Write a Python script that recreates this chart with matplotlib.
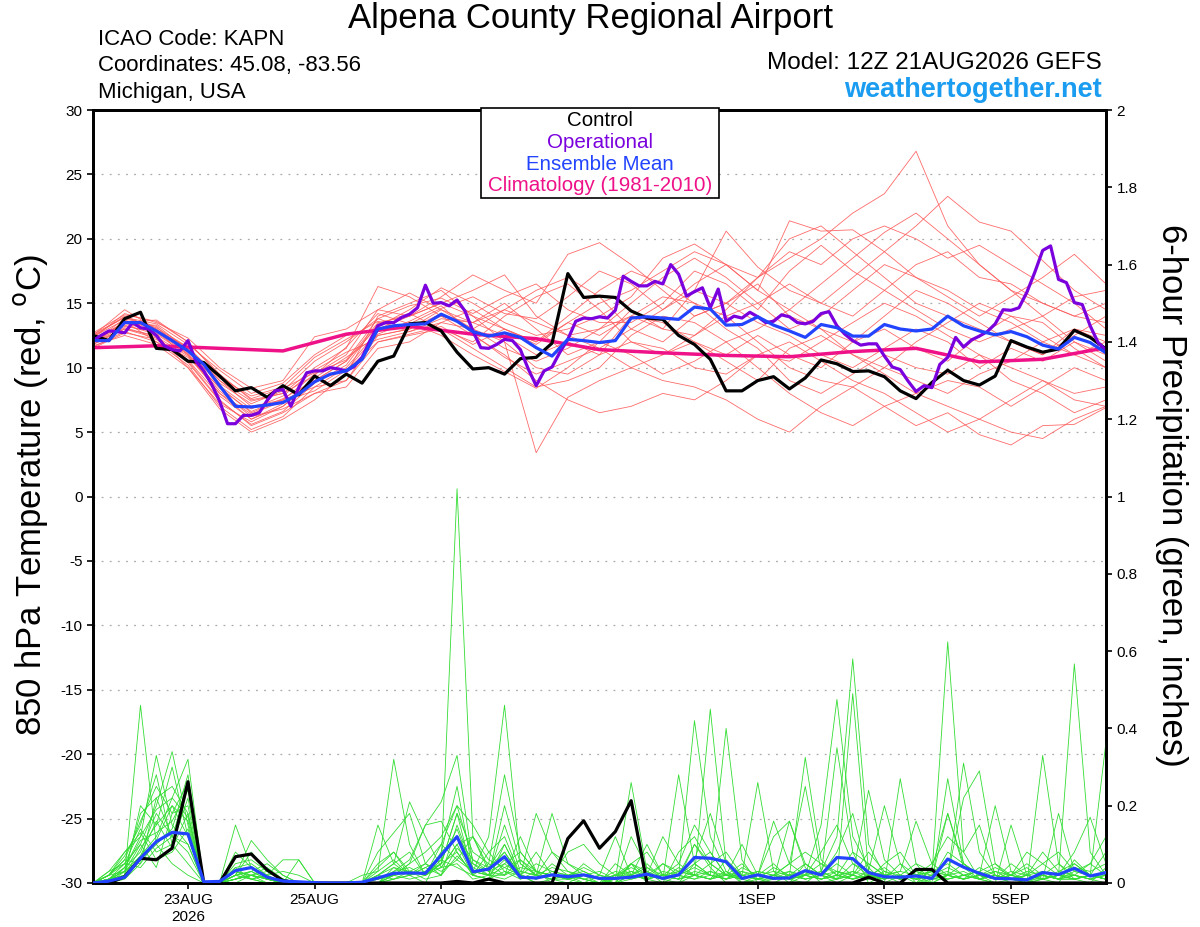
import numpy as np
import matplotlib
matplotlib.use("Agg")
import matplotlib.pyplot as plt
from matplotlib.patches import Rectangle

plt.rcParams['font.family'] = ['Liberation Sans', 'DejaVu Sans']
plt.rcParams['axes.unicode_minus'] = False

RED = "#ff5a5a"
GREEN = "#33dd33"
PURPLE = "#7a00dd"
BLUE = "#2244ff"
CLIM = "#ee1188"
SKY = "#1a9cf0"

# forecast hours (GEFS 12Z 21AUG2026, 6-hourly to 384h)
hours6 = np.arange(0, 385, 6)
hours3 = np.arange(0, 385, 3)
hours12 = np.arange(0, 385, 12)
hours24 = np.arange(0, 385, 24)
tick_hours = [36, 84, 132, 180, 252, 300, 348]
tick_labels = ["23AUG\n2026", "25AUG", "27AUG", "29AUG", "1SEP", "3SEP", "5SEP"]

# 850 hPa temperature, control (6-hourly)
control_t = [12.5, 12.1, 13.8, 14.3, 11.5, 11.4, 10.5, 10.4, 9.35, 8.2, 8.45, 7.7, 8.6,
             7.9, 9.35, 8.6, 9.5, 8.8, 10.5, 10.9, 13.4, 13.5, 12.85, 11.2, 9.9, 10.0,
             9.5, 10.7, 10.8, 11.9, 17.3, 15.45, 15.55, 15.45, 14.4, 13.85, 13.75, 12.5,
             11.8, 10.65, 8.2, 8.2, 9.0, 9.3, 8.35, 9.2, 10.6, 10.3, 9.7, 9.75, 9.3, 8.2,
             7.6, 8.85, 9.8, 9.0, 8.65, 9.35, 12.1, 11.6, 11.2, 11.45, 12.9, 12.35, 11.45]

# ensemble mean temperature (6-hourly)
mean_t = [12.1, 12.1, 13.5, 13.5, 12.85, 12.1, 11.3, 10.25, 8.6, 7.0, 6.95, 7.1, 7.3,
          7.95, 8.9, 9.5, 9.75, 10.65, 13.0, 13.25, 13.35, 13.4, 14.15, 13.6, 12.8, 12.45,
          12.7, 12.35, 11.55, 10.9, 12.2, 12.1, 11.95, 12.1, 13.85, 13.95, 13.85, 13.75,
          14.7, 14.55, 13.3, 13.35, 13.95, 13.3, 12.85, 12.35, 13.35, 13.1, 12.45, 12.45,
          13.35, 13.0, 12.85, 13.0, 14.0, 13.25, 12.85, 12.55, 12.8, 12.4, 11.75, 11.45,
          12.35, 11.95, 11.15]

# operational run temperature (3-hourly)
oper_t = [12.1, 12.5, 12.85, 12.8, 12.7, 13.5, 13.1, 13.0, 12.5, 11.7, 11.4, 11.3, 12.1,
          10.5, 9.75, 8.7, 7.4, 5.65, 5.65, 6.3, 6.3, 6.5, 7.45, 8.2, 8.3, 7.0, 8.45, 9.6,
          9.75, 9.75, 10.0, 9.9, 9.75, 10.1, 10.8, 12.1, 13.25, 13.5, 13.5, 13.9, 14.15,
          14.65, 16.4, 15.0, 15.05, 14.8, 15.25, 14.4, 12.85, 11.55, 11.5, 11.8, 12.2, 12.1,
          11.4, 9.9, 8.6, 9.75, 10.05, 11.2, 12.2, 13.6, 13.85, 13.8, 13.95, 13.85, 14.45,
          17.1, 16.7, 16.35, 16.35, 16.7, 16.5, 18.0, 17.25, 15.55, 15.9, 16.2, 14.65, 16.1,
          13.6, 14.0, 13.85, 14.3, 13.95, 13.5, 13.6, 14.1, 13.95, 13.5, 13.4, 13.6, 14.2,
          14.35, 13.25, 12.6, 12.1, 11.75, 11.85, 11.85, 10.9, 10.05, 9.85, 8.95, 8.15, 8.6,
          8.45, 10.25, 10.8, 12.35, 11.6, 12.15, 12.45, 12.8, 13.4, 14.5, 14.45, 14.65,
          15.85, 17.4, 19.1, 19.45, 16.85, 16.6, 15.05, 14.9, 13.25, 11.95, 11.35]

# climatology 1981-2010 (daily)
clim_t = [11.55, 11.7, 11.5, 11.3, 12.6, 13.2, 12.6, 12.25, 11.4, 11.15, 10.95, 10.85,
          11.25, 11.5, 10.45, 10.65, 11.55]

# ensemble member temperatures (12-hourly)
members_t = [
    [12.0, 13.8, 13.2, 11.0, 8.0, 6.0, 7.0, 9.0, 10.5, 13.5, 14.0, 15.0, 14.0, 13.0, 12.0, 13.5, 15.0, 16.0, 17.5, 19.0, 18.0, 17.0, 20.0, 21.0, 19.0, 17.0, 15.0, 14.0, 13.0, 12.0, 11.0, 13.0, 12.5],
    [12.5, 14.5, 13.0, 10.5, 7.5, 5.5, 6.5, 8.0, 9.0, 12.5, 13.0, 14.5, 13.0, 14.5, 16.0, 17.0, 15.5, 13.0, 12.0, 14.0, 15.0, 17.0, 18.5, 20.0, 22.0, 23.5, 26.8, 21.0, 18.0, 16.0, 14.0, 12.0, 10.5],
    [11.8, 13.0, 12.5, 10.0, 6.8, 5.0, 6.0, 7.5, 9.5, 14.0, 15.0, 16.0, 14.0, 12.0, 10.0, 9.5, 11.0, 14.0, 15.5, 15.0, 14.0, 12.0, 10.0, 9.0, 8.5, 10.0, 12.0, 13.5, 15.0, 14.0, 12.5, 11.0, 12.0],
    [12.2, 13.5, 13.7, 12.0, 9.5, 7.5, 8.0, 10.0, 11.5, 16.3, 15.5, 14.0, 12.5, 11.0, 9.0, 7.5, 6.5, 7.0, 8.0, 7.5, 9.0, 11.0, 10.5, 12.0, 13.5, 15.0, 14.0, 12.5, 11.0, 10.0, 9.0, 7.5, 7.0],
    [11.6, 12.8, 12.0, 10.8, 8.5, 6.5, 7.5, 9.5, 11.0, 14.5, 14.0, 15.5, 17.2, 16.0, 15.0, 18.8, 19.7, 18.0, 16.0, 14.0, 15.0, 16.5, 14.0, 13.0, 12.0, 14.0, 16.0, 15.0, 13.5, 12.0, 11.0, 12.5, 14.0],
    [12.4, 14.0, 13.0, 11.5, 9.0, 7.0, 7.5, 8.5, 9.0, 12.0, 12.5, 13.0, 11.5, 10.0, 8.5, 9.0, 10.0, 12.5, 14.0, 13.5, 12.0, 13.0, 14.5, 13.0, 11.0, 9.5, 8.0, 7.0, 6.0, 5.0, 4.5, 6.0, 7.0],
    [12.0, 13.2, 12.8, 11.2, 8.8, 7.2, 8.2, 10.5, 12.0, 13.8, 13.0, 14.0, 13.5, 15.0, 13.0, 11.0, 12.0, 14.5, 13.0, 16.0, 20.6, 17.8, 16.0, 15.0, 17.0, 19.0, 21.0, 23.3, 21.3, 20.6, 18.3, 16.0, 14.5],
    [11.9, 13.6, 12.0, 10.2, 7.0, 5.2, 6.2, 8.5, 10.0, 12.8, 13.5, 12.5, 11.0, 9.7, 8.4, 10.0, 12.0, 11.0, 9.5, 10.5, 12.0, 10.0, 8.0, 6.5, 5.5, 7.0, 8.0, 9.0, 8.5, 7.0, 8.5, 10.0, 9.0],
    [12.6, 13.9, 13.4, 11.8, 9.8, 8.0, 8.8, 11.0, 12.5, 13.0, 14.0, 15.0, 16.0, 17.2, 14.0, 12.5, 13.0, 15.0, 17.0, 18.5, 17.0, 15.0, 13.0, 14.0, 16.0, 18.0, 17.0, 15.5, 14.0, 15.5, 17.0, 18.8, 16.5],
    [12.1, 13.3, 12.6, 11.0, 8.2, 6.2, 6.8, 8.0, 8.5, 11.5, 12.0, 13.5, 13.0, 12.0, 3.4, 7.7, 9.0, 10.0, 11.0, 12.0, 10.5, 9.0, 11.5, 12.5, 11.0, 10.0, 9.0, 8.0, 9.5, 10.5, 12.0, 11.0, 10.0],
    [11.7, 12.5, 11.8, 10.0, 7.2, 5.8, 7.0, 9.0, 10.5, 13.2, 14.5, 16.2, 15.0, 13.5, 12.5, 13.0, 14.0, 15.5, 18.5, 19.6, 18.0, 16.0, 21.4, 20.6, 20.7, 19.0, 17.0, 16.0, 14.5, 13.5, 12.0, 13.0, 12.0],
    [12.3, 14.2, 13.5, 12.3, 10.0, 8.4, 9.0, 12.4, 13.0, 14.5, 15.8, 14.5, 13.5, 12.5, 11.0, 12.0, 11.0, 12.0, 11.5, 10.0, 9.5, 11.0, 12.0, 10.5, 9.0, 8.0, 6.5, 5.0, 6.0, 7.5, 9.0, 8.0, 8.5],
    [12.0, 13.0, 12.3, 10.6, 7.8, 6.0, 7.2, 9.2, 10.8, 12.5, 13.0, 14.2, 13.0, 11.5, 10.5, 11.5, 13.0, 14.0, 13.0, 12.5, 14.0, 15.0, 16.5, 15.0, 14.0, 16.0, 18.0, 19.0, 17.0, 16.5, 15.0, 14.0, 15.0],
    [12.4, 13.7, 12.9, 11.6, 9.2, 7.8, 8.5, 10.8, 12.2, 13.6, 12.8, 13.5, 14.5, 13.0, 12.0, 14.0, 16.0, 17.5, 16.5, 15.0, 13.0, 11.5, 9.0, 8.0, 9.5, 11.0, 10.0, 9.5, 11.0, 9.0, 8.0, 6.5, 7.5],
    [11.5, 12.7, 12.2, 10.4, 7.4, 5.6, 6.6, 8.8, 10.2, 13.4, 14.2, 13.0, 12.0, 14.0, 15.5, 16.5, 14.5, 12.0, 11.0, 12.5, 14.5, 17.0, 19.0, 18.0, 20.0, 21.0, 20.0, 18.5, 19.5, 18.0, 16.5, 15.0, 13.0],
    [12.2, 13.4, 13.3, 11.4, 8.6, 6.8, 7.8, 9.8, 11.2, 12.2, 12.8, 13.8, 13.5, 14.5, 13.5, 12.5, 11.5, 13.0, 14.5, 16.0, 15.0, 13.5, 12.5, 11.0, 10.0, 11.5, 13.0, 12.0, 10.0, 11.5, 10.5, 12.0, 11.0],
    [12.7, 14.1, 13.6, 12.0, 9.4, 7.6, 8.4, 9.6, 10.6, 13.8, 14.8, 15.4, 14.2, 15.5, 16.5, 14.5, 13.5, 13.5, 15.0, 17.5, 16.5, 14.5, 17.5, 19.5, 17.5, 16.0, 14.5, 13.0, 12.0, 13.0, 14.0, 15.5, 16.0],
    [11.8, 13.1, 12.4, 10.9, 8.0, 6.4, 7.4, 8.2, 9.8, 12.6, 13.6, 14.8, 12.6, 10.8, 9.5, 10.5, 11.5, 10.0, 9.0, 8.5, 7.5, 6.0, 5.0, 7.0, 8.5, 7.0, 5.5, 6.5, 4.8, 4.0, 5.5, 5.6, 6.9],
    [12.5, 13.9, 13.1, 11.6, 9.0, 7.4, 8.0, 9.4, 11.6, 14.2, 13.4, 14.6, 15.5, 14.2, 13.8, 15.5, 17.5, 16.5, 14.5, 16.5, 18.0, 16.0, 14.5, 16.5, 18.5, 20.5, 22.0, 20.0, 18.0, 16.0, 15.0, 14.0, 13.5],
    [12.0, 13.5, 12.7, 11.1, 8.4, 6.6, 7.6, 9.0, 9.8, 12.0, 12.6, 13.2, 11.8, 13.0, 11.8, 13.5, 12.5, 14.0, 13.5, 12.0, 11.0, 12.5, 11.0, 10.0, 12.0, 13.0, 11.5, 10.5, 12.5, 14.0, 13.5, 11.5, 10.0],
]

# 6-hour precipitation (inches), control and ensemble mean
control_p = [0, 0, 0.016, 0.064, 0.06, 0.09, 0.262, 0, 0, 0.068, 0.075, 0.034, 0.006, 0, 0,
             0, 0, 0, 0, 0, 0, 0, 0, 0.004, 0, 0.01, 0, 0, 0, 0, 0.115, 0.161, 0.09, 0.133,
             0.213, 0, 0, 0, 0, 0, 0, 0, 0, 0, 0, 0, 0, 0, 0, 0.015, 0, 0, 0.035, 0.035, 0,
             0, 0, 0, 0, 0, 0, 0, 0, 0, 0]
mean_p = [0, 0.005, 0.015, 0.064, 0.107, 0.131, 0.127, 0.003, 0.004, 0.032, 0.04, 0.015,
          0.005, 0.003, 0.001, 0, 0, 0.002, 0.013, 0.025, 0.026, 0.025, 0.072, 0.12, 0.029,
          0.036, 0.068, 0.015, 0.013, 0.021, 0.016, 0.021, 0.012, 0.012, 0.015, 0.023, 0.012,
          0.021, 0.066, 0.064, 0.055, 0.012, 0.021, 0.012, 0.013, 0.032, 0.021, 0.066, 0.063,
          0.027, 0.016, 0.015, 0.018, 0.012, 0.062, 0.041, 0.025, 0.012, 0.011, 0.008, 0.027,
          0.022, 0.038, 0.018, 0.027]

# ensemble member precipitation (6-hourly)
members_p = [
    [0, 0, .02, .46, .10, .05, .02, 0, 0, .03, .02, 0, 0, 0, 0, 0, 0, 0, .04, .08, .03, .02, .05, 1.02, .12, .04, .10, .02, 0, 0, 0, .02, 0, 0, .05, 0, 0, .02, .10, .04, 0, 0, .02, .05, .01, 0, .03, .12, .58, .10, .02, 0, 0, .04, .18, .05, .02, 0, .01, 0, .03, .02, .08, .17, .05],
    [0, .02, .08, .12, .33, .15, .10, 0, 0, .15, .04, .02, 0, 0, 0, 0, 0, 0, 0, .02, .05, .15, .21, .33, .05, .02, .02, .06, .03, 0, 0, 0, .02, .01, .26, .03, 0, 0, .02, .45, .05, 0, .01, 0, 0, .05, .02, 0, .02, .24, .06, .02, 0, .02, .624, .08, .01, 0, 0, 0, .02, .05, .01, 0, .04],
    [0, .03, .05, .10, .20, .34, .15, 0, 0, .02, .11, .06, .02, 0, 0, 0, 0, 0, .15, .05, .02, 0, .08, .25, .03, .12, .46, .05, .02, .01, 0, 0, 0, 0, .02, .10, .02, .02, .42, .12, .03, 0, 0, .01, .16, .04, 0, .01, .05, .03, 0, .27, .05, 0, .02, .31, .08, .02, 0, 0, .01, 0, .06, .02, .365],
    [0, .01, .03, .07, .12, .22, .32, 0, 0, .05, .06, .03, .01, 0, 0, 0, 0, .02, .03, .32, .10, .02, .05, .18, .08, .05, .28, .08, .03, .02, .01, 0, 0, 0, .12, .04, .01, .28, .05, .02, .40, .06, 0, 0, .02, .325, .06, .02, .08, 0, .02, .03, .16, .05, .02, .22, .29, .05, .01, 0, .01, .02, .567, .08, .02],
    [0, 0, .04, .08, .18, .12, .25, 0, 0, .08, .04, .02, .06, .06, 0, 0, 0, 0, .02, .05, .21, .12, .04, .10, .12, .06, .04, .02, .18, .08, .03, .01, 0, .02, .05, .03, .01, 0, .05, .08, .02, .02, .26, .03, 0, .02, .15, .475, .12, .04, 0, .02, .01, 0, .27, .05, .02, .20, .03, 0, .33, .05, .02, .01, 0],
    [0, .02, .06, .16, .25, .18, .20, 0, 0, .02, .03, .05, .02, 0, 0, 0, 0, 0, .08, .13, .18, .05, .02, .15, .04, .02, .15, .03, .02, .18, .05, .02, .01, 0, .02, .01, 0, .08, .12, .05, .02, .10, .02, .16, .05, .25, .03, .01, .49, .03, .20, .05, 0, .01, .18, .04, .01, 0, .15, .02, .01, .18, .03, .02, .08],
    [0, .01, .02, .20, .15, .30, .12, 0, 0, .01, .03, .01, 0, .06, 0, 0, 0, 0, 0, .03, .06, .15, .16, .08, .02, .01, .05, .08, .03, .02, .08, .10, .05, .02, .04, .02, .02, .03, .06, .18, .05, .02, .01, .04, .02, .03, .02, .35, .08, .05, .02, .03, .02, 0, .02, .05, .02, .04, .02, .05, .02, .01, .02, .05, .12],
    [0, .02, .03, .06, .10, .14, .28, 0, 0, .04, .05, .02, 0, 0, 0, 0, 0, 0, .02, .05, .08, .02, .08, .12, .06, .03, .08, .02, .05, .03, .02, .01, 0, .01, .03, .02, .05, .03, .02, .01, .06, .02, .03, .02, .05, .08, .05, .03, .02, .01, .05, .08, .02, .03, .05, .02, .03, .05, .02, .08, .05, .02, .04, .03, .05],
    [0, 0, .01, .05, .22, .25, .18, 0, 0, .02, .08, .03, .01, 0, 0, 0, 0, 0, 0, .02, .03, .05, .10, .20, .15, .08, .12, .02, .01, .05, .02, 0, 0, .05, .02, .02, .12, .05, .15, .08, .02, .01, .02, .12, .16, .05, .02, .01, .02, .08, .03, .01, .02, .05, .12, .08, .15, .02, .01, .02, .08, .03, .05, .02, .01],
    [0, .01, .05, .14, .08, .10, .22, 0, 0, .03, .01, .02, .03, .02, 0, 0, 0, 0, .05, .08, .02, .04, .06, .14, .03, .02, .20, .05, .02, .08, .05, .03, .01, 0, .05, .08, .02, .01, .10, .05, .08, .02, .01, .02, .05, .02, .08, .15, .05, .02, .01, .05, .02, .01, .08, .05, .02, .01, .03, .02, .05, .08, .03, .05, .02],
    [0, 0, .02, .09, .15, .20, .16, 0, 0, 0, .02, .01, 0, 0, 0, 0, 0, 0, 0, .01, .02, .03, .05, .18, .02, .01, .10, .02, 0, .01, .02, .04, .02, .12, .02, .05, .01, .02, .05, .02, .01, .03, .02, .01, .02, .05, .02, .08, .18, .02, .02, .01, .03, .02, .04, .02, .03, .01, .02, .04, .01, .02, .02, .01, .03],
    [0, .01, .04, .11, .13, .16, .24, 0, 0, .01, .02, .01, 0, 0, 0, 0, 0, 0, .01, .02, .05, .08, .12, .20, .06, .04, .08, .02, .01, .02, .01, .02, .01, 0, .01, .02, .01, .04, .02, .01, .03, .01, 0, .02, .01, .02, .01, .03, .02, .01, .03, .02, .05, .03, .02, .01, .04, .02, .01, .02, .03, .01, .02, .01, .02],
    [0, .02, .05, .04, .09, .12, .10, 0, 0, .03, .02, .04, .01, 0, 0, 0, 0, 0, 0, .01, .03, .02, .04, .10, .02, .05, .02, .12, .03, .02, .01, .02, .01, .02, .02, .01, .05, .02, .01, .03, .02, .05, .01, .02, .01, .02, .03, .01, .02, .05, .02, .01, .02, .01, .01, .02, .01, .03, .02, .01, .02, .01, .05, .02, .01],
    [0, .01, .03, .18, .22, .12, .08, 0, 0, .02, .01, 0, 0, 0, 0, 0, 0, 0, .02, .01, .02, .05, .03, .06, .12, .03, .05, .02, .08, .02, .02, .01, 0, .01, .02, .01, .02, .01, .03, .02, .02, .01, .02, .01, .02, .01, .02, .03, .01, .02, .01, .02, .01, .02, .03, .01, .02, .01, .05, .02, .01, .02, .01, .02, .01],
    [0, .03, .08, .13, .06, .08, .14, 0, 0, .01, .02, .01, 0, 0, 0, 0, 0, 0, 0, .04, .03, .02, .05, .08, .02, .08, .03, .01, .02, .04, .03, .02, .01, .02, .03, .01, .02, .05, .02, .01, .02, .01, .03, .02, .01, .02, .01, .02, .03, .01, .02, .01, .02, .01, .02, .03, .01, .02, .01, .03, .02, .01, .01, .02, .01],
    [0, .01, .02, .07, .16, .09, .18, 0, 0, .02, .03, .01, 0, 0, 0, 0, 0, 0, .01, .03, .04, .02, .10, .06, .03, .02, .04, .06, .02, .01, .01, .05, .02, .01, .05, .02, .01, .02, .04, .02, .01, .04, .02, .01, .03, .02, .05, .02, .01, .02, .04, .01, .02, .03, .01, .02, .01, .02, .01, .02, .01, .03, .02, .01, .02],
    [0, 0, .03, .10, .04, .18, .26, 0, 0, .01, .02, .03, .01, 0, 0, 0, 0, 0, .03, .06, .02, .04, .02, .09, .05, .03, .02, .04, .03, .02, .01, .02, .01, .03, .02, .04, .02, .01, .02, .05, .02, .01, .02, .03, .02, .01, .02, .05, .02, .01, .02, .01, .02, .01, .02, .01, .02, .03, .01, .01, .02, .01, .03, .02, .01],
    [0, .02, .06, .05, .11, .20, .12, 0, 0, .04, .01, .02, 0, 0, 0, 0, 0, 0, 0, .02, .01, .02, .06, .04, .02, .01, .03, .02, .01, .03, .02, .01, .02, .01, .02, .01, .03, .02, .01, .02, .01, .02, .01, .02, .01, .03, .01, .02, .01, .02, .01, .02, .01, .03, .02, .01, .02, .01, .02, .01, .02, .01, .01, .02, .02],
    [0, .01, .04, .12, .19, .22, .17, 0, 0, .01, .02, .01, 0, 0, 0, 0, 0, 0, .01, .02, .03, .01, .02, .07, .03, .02, .01, .03, .02, .01, .02, .03, .01, .02, .01, .02, .01, .03, .02, .01, .02, .03, .01, .02, .03, .01, .02, .01, .03, .02, .01, .02, .01, .02, .01, .02, .01, .02, .01, .02, .01, .02, .01, .02, .01],
    [0, .02, .07, .15, .28, .10, .05, 0, 0, .02, .01, 0, 0, 0, 0, 0, 0, 0, .02, .04, .02, .03, .04, .05, .01, .02, .06, .01, .03, .02, .01, .02, .03, .01, .02, .01, .02, .01, .02, .03, .01, .02, .01, .01, .02, .02, .01, .02, .01, .03, .02, .01, .03, .01, .02, .01, .02, .01, .02, .01, .01, .02, .01, .02, .01],
]

fig = plt.figure(figsize=(12, 9.27), dpi=100, facecolor="white")
ax = fig.add_axes([93 / 1200, 44 / 927, 1013 / 1200, 773 / 927])
ax2 = ax.twinx()

# precipitation on the right axis
for m in members_p:
    ax2.plot(hours6[:len(m)], m, color=GREEN, lw=0.6, zorder=1)
ax2.plot(hours6, control_p, color="black", lw=2.3, zorder=3)
ax2.plot(hours6, mean_p, color=BLUE, lw=2.3, zorder=4)

# temperature on the left axis
for m in members_t:
    ax.plot(hours12[:len(m)], m, color=RED, lw=0.6, alpha=0.9, zorder=1)
ax.plot(hours24, clim_t, color=CLIM, lw=2.5, zorder=3)
ax.plot(hours6, control_t, color="black", lw=2.3, zorder=4)
ax.plot(hours3, oper_t, color=PURPLE, lw=2.3, zorder=5)
ax.plot(hours6, mean_t, color=BLUE, lw=2.3, zorder=6)

ax.set_xlim(0, 384)
ax.set_ylim(-30, 30)
ax2.set_ylim(0, 2)
ax.set_yticks(np.arange(-30, 31, 5))
ax2.set_yticks(np.arange(0, 2.01, 0.2))
ax2.set_yticklabels(["0", "0.2", "0.4", "0.6", "0.8", "1", "1.2", "1.4", "1.6", "1.8", "2"])
ax.set_xticks(tick_hours)
ax.set_xticklabels(tick_labels)
for y in range(-25, 30, 5):
    ax.axhline(y, color="#aaaaaa", lw=0.9, ls=(0, (1.5, 5)), zorder=0)

ax.tick_params(axis="both", direction="out", length=4, width=1.2, labelsize=11, colors="black")
ax2.tick_params(axis="y", direction="out", length=4, width=1.2, labelsize=11)
for a in (ax, ax2):
    for s in a.spines.values():
        s.set_linewidth(2)

ax.set_ylabel("850 hPa Temperature (red, $^{\\rm o}$C)", fontsize=25, va="center")
ax.yaxis.set_label_coords(-0.062, 0.502)
ax2.set_ylabel("6-hour Precipitation (green, inches)", fontsize=25, rotation=270, va="center")
ax2.yaxis.set_label_coords(1.065, 0.502)

# header texts
fig.text(0.492, 0.980, "Alpena County Regional Airport", ha="center", va="center", fontsize=25)
fig.text(0.082, 0.957, "ICAO Code: KAPN", ha="left", va="center", fontsize=16)
fig.text(0.082, 0.929, "Coordinates: 45.08, -83.56", ha="left", va="center", fontsize=16)
fig.text(0.082, 0.900, "Michigan, USA", ha="left", va="center", fontsize=16)
fig.text(0.918, 0.932, "Model: 12Z 21AUG2026 GEFS", ha="right", va="center", fontsize=17.5)
fig.text(0.918, 0.903, "weathertogether.net", ha="right", va="center", fontsize=19.5,
         fontweight="bold", color=SKY)

# legend box
fig.patches.append(Rectangle((481 / 1200, 1 - 198 / 927), 238 / 1200, 90 / 927,
                             transform=fig.transFigure, facecolor="white",
                             edgecolor="black", lw=1.2, zorder=10))
leg_items = [("Control", "black"), ("Operational", PURPLE),
             ("Ensemble Mean", BLUE), ("Climatology (1981-2010)", CLIM)]
for k, (txt, col) in enumerate(leg_items):
    fig.text(600 / 1200, 1 - (121 + 21.5 * k) / 927, txt, ha="center", va="center",
             fontsize=14.8, color=col, zorder=11)

fig.savefig("out.png", dpi=100, facecolor="white")
